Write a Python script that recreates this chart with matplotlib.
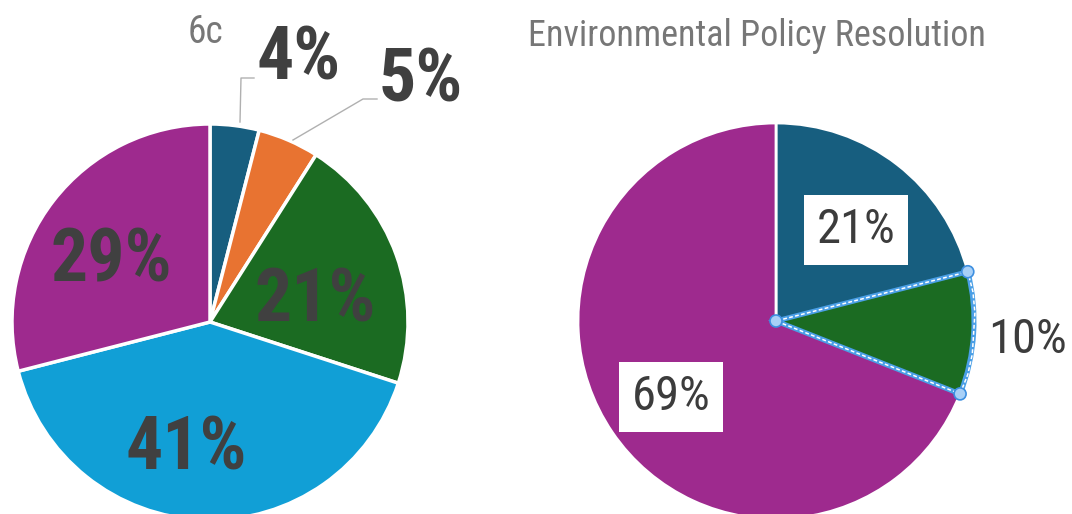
import numpy as np
import matplotlib
matplotlib.use("Agg")
import matplotlib.pyplot as plt
from matplotlib.patches import Circle

# ---- data ----
left_title = "6c"
left_values = [4, 5, 21, 41, 29]
left_labels = ["4%", "5%", "21%", "41%", "29%"]
left_colors = ["#175e7f", "#e87331", "#1b6b22", "#119fd6", "#9e2a8e"]

right_title = "Environmental Policy Resolution"
right_values = [21, 10, 69]
right_labels = ["21%", "10%", "69%"]
right_colors = ["#175e7f", "#1b6b22", "#9e2a8e"]

W, H = 1072, 514
FONT = ["Roboto Condensed", "Roboto", "DejaVu Sans"]

fig = plt.figure(figsize=(W / 100, H / 100), dpi=100)
ax = fig.add_axes([0, 0, 1, 1])


def py(y):
    """convert pixel-from-top to data y"""
    return H - y


# ---- left pie ----
lc = (210, py(322))
lw_, _ = ax.pie(left_values, colors=left_colors, startangle=90, counterclock=False,
                center=lc, radius=198,
                wedgeprops=dict(edgecolor="white", linewidth=2.5))

# ---- right pie ----
rc = (776, py(321))
rw, _ = ax.pie(right_values, colors=right_colors, startangle=90, counterclock=False,
               center=rc, radius=198,
               wedgeprops=dict(edgecolor="white", linewidth=2.0))

# highlight of the selected (green) wedge
g = rw[1]
g.set_edgecolor("#4a9fe6")
g.set_linewidth(3.6)
g.set_zorder(3)
ax.add_patch(plt.Polygon(g.get_path().vertices, closed=True, fill=False,
                         edgecolor="white", linewidth=1.1, linestyle=(0, (2.5, 1.5)),
                         zorder=4, transform=g.get_transform()))
for ang in (g.theta1, g.theta2):
    ax.add_patch(Circle((g.center[0] + g.r * np.cos(np.radians(ang)),
                         g.center[1] + g.r * np.sin(np.radians(ang))), 6,
                        facecolor="#a8d0f7", edgecolor="#3d8fe0", linewidth=1.2, zorder=5))
ax.add_patch(Circle(g.center, 6, facecolor="#a8d0f7", edgecolor="#3d8fe0",
                    linewidth=1.2, zorder=5))

# ---- titles ----
ax.text(206, py(43), left_title, ha="center", va="baseline", fontsize=27,
        color="#777777", family=FONT)
ax.text(757, py(46), right_title, ha="center", va="baseline", fontsize=26,
        color="#777777", family=FONT)

# ---- left labels ----
big = dict(ha="center", va="baseline", fontsize=53, fontweight="bold",
           color="#404040", family=FONT, zorder=6)
left_pos = [(299, 79), (421, 102), (315, 322), (186, 470), (111, 282)]
for lab, (x, y) in zip(left_labels, left_pos):
    ax.text(x, py(y), lab, **big)

# leader lines for small slices
ax.plot([240, 241, 254], [py(122), py(78), py(78)], color="#b0b0b0", lw=1.0, zorder=2)
ax.plot([293, 363, 377], [py(140), py(99), py(99)], color="#b0b0b0", lw=1.0, zorder=2)

# ---- right labels ----
med = dict(ha="center", va="baseline", fontsize=35, color="#3c3c3c", family=FONT, zorder=6)
right_pos = [(856, 243), (1028, 353), (671, 410)]
for i, (lab, (x, y)) in enumerate(zip(right_labels, right_pos)):
    kw = dict(med)
    if i != 1:
        kw["bbox"] = dict(boxstyle="square,pad=0.25", facecolor="white", edgecolor="none")
    ax.text(x, py(y), lab, **kw)

ax.set_xlim(0, W)
ax.set_ylim(0, H)
ax.set_aspect("equal")
ax.axis("off")
fig.savefig("out.png", dpi=100)
